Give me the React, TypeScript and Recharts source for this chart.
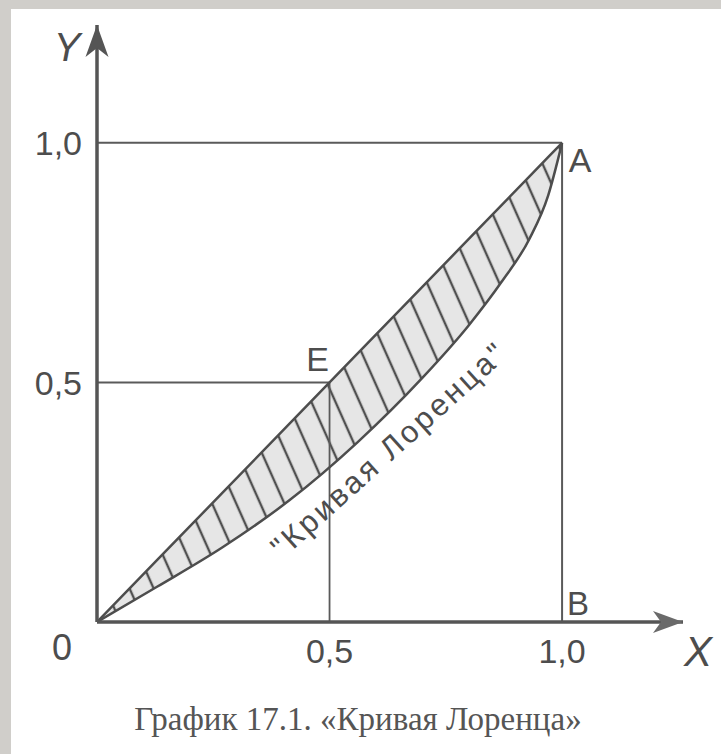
import React from 'react';
import { ComposedChart, XAxis, YAxis, Area, Line, ReferenceLine, ReferenceDot } from 'recharts';

// Cumulative share of population (X) and of income (Y)
const shareX = [0, 0.13, 0.27, 0.415, 0.56, 0.7, 0.8, 0.87, 0.93, 0.97, 1];
const lorenzY = [0, 0.074, 0.156, 0.255, 0.375, 0.51, 0.62, 0.71, 0.8, 0.89, 1];
const equalityY = [0, 0.13, 0.27, 0.415, 0.56, 0.7, 0.8, 0.87, 0.93, 0.97, 1];
const xTicks = [0.5, 1];
const yTicks = [0.5, 1];
const X_MAX = 1.26;
const Y_MAX = 1.246;
const pointA = { x: 1, y: 1 };
const pointB = { x: 1, y: 0 };
const pointE = { x: 0.5, y: 0.5 };
const curveLabelAt = { x: 0.628, y: 0.36 };
const curveLabel = '"Кривая Лоренца"';
const caption = 'График 17.1. «Кривая Лоренца»';

const data = shareX.map((x, i) => ({ x, lorenz: lorenzY[i], equality: equalityY[i] }));

const INK = '#4d4d4d';
const SANS = "'Liberation Sans', Arial, sans-serif";

const fmt = (v: number) => v.toFixed(1).replace('.', ',');

const textShape = (text: string, dx: number, dy: number, size: number, extra: any = {}) => (p: any) => (
  <text
    x={p.cx + dx}
    y={p.cy + dy}
    textAnchor="middle"
    fontSize={size}
    fontFamily={SANS}
    fill={INK}
    {...extra}
  >
    {text}
  </text>
);

export default function App() {
  return (
    <div style={{ position: 'absolute', left: 0, top: 0, width: 721, height: 754, background: '#d0ceca' }}>
      <div style={{ position: 'absolute', left: 11, top: 9, right: 0, bottom: 0, background: '#ffffff' }} />
      <svg width={0} height={0} style={{ position: 'absolute' }}>
        <defs>
          <pattern id="hatch" patternUnits="userSpaceOnUse" width={22} height={22} patternTransform="rotate(-24)">
            <rect x={0} y={0} width={22} height={22} fill="#e6e6e6" />
            <line x1={11} y1={0} x2={11} y2={22} stroke="#505050" strokeWidth={2.4} />
          </pattern>
          <marker id="arrowX" markerUnits="userSpaceOnUse" markerWidth={32} markerHeight={24} refX={30} refY={12} orient="auto">
            <path d="M0,1 L30,12 L0,23 L8,12 Z" fill="#6a6a6a" />
          </marker>
          <marker id="arrowY" markerUnits="userSpaceOnUse" markerWidth={34} markerHeight={26} refX={32} refY={12} orient="auto-start-reverse">
            <path d="M0,0.5 L32,12 L0,23.5 L9,12 Z" fill="#555" />
          </marker>
        </defs>
      </svg>
      <div style={{ position: 'absolute', left: 0, top: 0 }}>
        <ComposedChart
          width={721}
          height={754}
          data={data}
          margin={{ top: 25, right: 38, bottom: 92, left: 37 }}
        >
          <XAxis
            dataKey="x"
            type="number"
            domain={[0, X_MAX]}
            ticks={xTicks}
            tickFormatter={fmt}
            height={40}
            tickLine={false}
            tickSize={6}
            tickMargin={11}
            tick={{ fontSize: 34, fill: INK, fontFamily: SANS }}
            axisLine={{ stroke: '#555', strokeWidth: 3.5, markerEnd: 'url(#arrowX)' }}
            allowDataOverflow
          />
          <YAxis
            type="number"
            domain={[0, Y_MAX]}
            ticks={yTicks}
            tickFormatter={fmt}
            width={60}
            tickLine={false}
            tickSize={6}
            tickMargin={9}
            tick={{ fontSize: 34, fill: INK, fontFamily: SANS }}
            axisLine={{ stroke: '#555', strokeWidth: 3.5, markerStart: 'url(#arrowY)' }}
            allowDataOverflow
          />
          <ReferenceLine segment={[{ x: 0, y: pointA.y }, { x: pointA.x, y: pointA.y }]} stroke="#5a5a5a" strokeWidth={2} />
          <ReferenceLine segment={[{ x: pointB.x, y: pointB.y }, { x: pointA.x, y: pointA.y }]} stroke="#5a5a5a" strokeWidth={2} />
          <ReferenceLine segment={[{ x: 0, y: pointE.y }, { x: pointE.x, y: pointE.y }]} stroke="#5a5a5a" strokeWidth={2} />
          <ReferenceLine segment={[{ x: pointE.x, y: 0 }, { x: pointE.x, y: pointE.y }]} stroke="#5a5a5a" strokeWidth={1.8} />
          <Area
            type="monotone"
            dataKey={(d: any) => [d.lorenz, d.equality]}
            fill="url(#hatch)"
            fillOpacity={1}
            stroke="none"
            isAnimationActive={false}
            activeDot={false}
          />
          <Line type="linear" dataKey="equality" stroke={INK} strokeWidth={2.5} dot={false} activeDot={false} isAnimationActive={false} />
          <Line type="monotone" dataKey="lorenz" stroke={INK} strokeWidth={2.5} dot={false} activeDot={false} isAnimationActive={false} />
          <ReferenceDot x={pointA.x} y={pointA.y} r={1} shape={textShape('A', 18, 29, 34)} />
          <ReferenceDot x={pointB.x} y={pointB.y} r={1} shape={textShape('B', 16, -7, 33)} />
          <ReferenceDot x={pointE.x} y={pointE.y} r={1} shape={textShape('E', -12, -11, 34)} />
          <ReferenceDot x={0} y={0} r={1} shape={textShape('0', -35, 38, 36)} />
          <ReferenceDot x={0} y={Y_MAX} r={1} shape={textShape('Y', -30, 36, 40, { fontStyle: 'italic' })} />
          <ReferenceDot x={X_MAX} y={0} r={1} shape={textShape('X', 15, 44, 42, { fontStyle: 'italic' })} />
          <ReferenceDot
            x={curveLabelAt.x}
            y={curveLabelAt.y}
            r={1}
            shape={(p: any) => (
              <text
                x={p.cx}
                y={p.cy}
                textAnchor="middle"
                dominantBaseline="central"
                fontSize={31}
                letterSpacing={3}
                fontFamily={SANS}
                fill={INK}
                transform={`rotate(-42 ${p.cx} ${p.cy})`}
              >
                {curveLabel}
              </text>
            )}
          />
        </ComposedChart>
      </div>
      <div
        style={{
          position: 'absolute',
          left: 0,
          top: 699,
          width: 716,
          textAlign: 'center',
          fontFamily: "'Liberation Serif', 'Times New Roman', serif",
          fontSize: 33,
          color: '#555',
          lineHeight: '40px',
        }}
      >
        {caption}
      </div>
    </div>
  );
}
